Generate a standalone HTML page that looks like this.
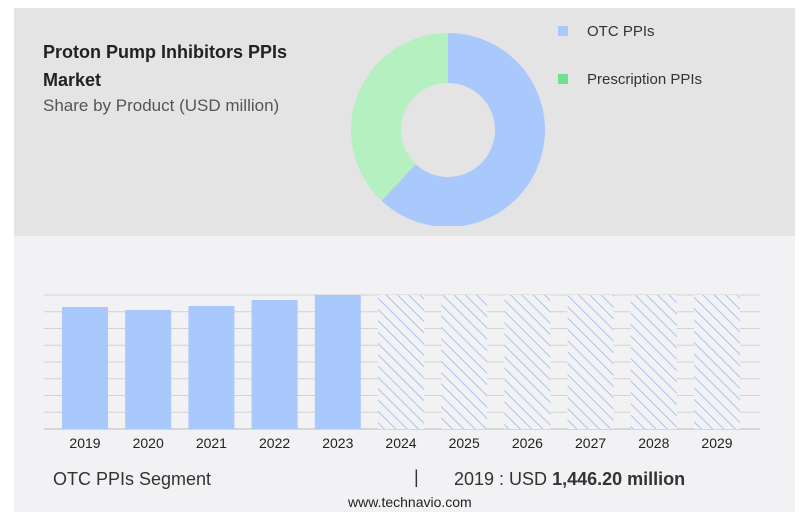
<!DOCTYPE html>
<html><head><meta charset="utf-8"><style>
body{margin:0;width:811px;height:525px;background:#fff;font-family:"Liberation Sans",sans-serif;position:relative;overflow:hidden}
.abs{position:absolute}
</style></head><body>
<div class="abs" style="left:14px;top:8px;width:781px;height:228px;background:#e4e4e4"></div>
<div class="abs" style="left:14px;top:236px;width:781px;height:276px;background:#f2f2f4"></div>
<div class="abs" style="left:43px;top:38px;font-size:18px;font-weight:bold;color:#222;line-height:28px">Proton Pump Inhibitors PPIs<br>Market</div>
<div class="abs" style="left:43px;top:96px;font-size:17px;color:#555">Share by Product (USD million)</div>
<svg class="abs" style="left:0;top:0" width="811" height="525" id="svg">
<defs><pattern id="hatch" width="8" height="8" patternUnits="userSpaceOnUse" patternTransform="rotate(-45)"><rect width="8" height="8" fill="#f2f2f4"/><line x1="0" y1="0" x2="0" y2="8" stroke="#a9c4ee" stroke-width="2"/></pattern>
<clipPath id="topclip"><rect x="0" y="0" width="811" height="226"/></clipPath></defs>
<g id="donut" clip-path="url(#topclip)"></g>
<g id="grid"></g><g id="bars"></g>
<rect x="558" y="26" width="10" height="10" fill="#a9c8fb"/>
<text x="587" y="36" font-size="15" fill="#333">OTC PPIs</text>
<rect x="558" y="74" width="10" height="10" fill="#6ee08e"/>
<text x="587" y="84" font-size="15" fill="#333">Prescription PPIs</text>
</svg>
<div class="abs" style="left:53px;top:469px;font-size:18px;color:#333">OTC PPIs Segment</div>
<div class="abs" style="left:414px;top:467px;font-size:18px;color:#333">|</div>
<div class="abs" style="left:454px;top:469px;font-size:18px;color:#333">2019 : USD <b>1,446.20 million</b></div>
<div class="abs" style="left:348px;top:494px;font-size:14px;color:#222">www.technavio.com</div>
<script>
const shareLabels=["OTC PPIs","Prescription PPIs"];
const shareValues=[62,38];
const shareColors=["#a9c8fb","#b4f0c0"];
const years=["2019","2020","2021","2022","2023","2024","2025","2026","2027","2028","2029"];
const values=[1446.2,1410,1458,1529,1588,null,null,null,null,null,null];
const NS="http://www.w3.org/2000/svg";
const cx=448,cy=130,R=97,r=47;
const tot=shareValues.reduce((a,b)=>a+b,0);let a0=0;
const dg=document.getElementById('donut');
shareValues.forEach((v,i)=>{const a1=a0+v/tot*2*Math.PI;
const p=(ang,rad)=>[cx+rad*Math.sin(ang),cy-rad*Math.cos(ang)];
const [x1,y1]=p(a0,R),[x2,y2]=p(a1,R),[x3,y3]=p(a1,r),[x4,y4]=p(a0,r);const lg=a1-a0>Math.PI?1:0;
const el=document.createElementNS(NS,'path');
el.setAttribute('d',`M${x1},${y1}A${R},${R} 0 ${lg} 1 ${x2},${y2}L${x3},${y3}A${r},${r} 0 ${lg} 0 ${x4},${y4}Z`);
el.setAttribute('fill',shareColors[i]);


dg.appendChild(el);a0=a1;});
const base=429,plotTop=295,maxV=Math.max(...values.filter(v=>v!=null));
const yScale=v=>base-(v/maxV)*(base-plotTop);
const xScale=i=>62+i*63.2;
const gg=document.getElementById('grid');
for(let k=0;k<=8;k++){const l=document.createElementNS(NS,'line');const yy=plotTop+k*(base-plotTop)/8;
l.setAttribute('x1',44);l.setAttribute('x2',760);l.setAttribute('y1',yy);l.setAttribute('y2',yy);
l.setAttribute('stroke',k==8?'#bbb':'#d2d2d2');l.setAttribute('stroke-width',1);


gg.appendChild(l);}
const bg=document.getElementById('bars');
years.forEach((yr,i)=>{const b=document.createElementNS(NS,'rect');
const v=values[i];const yt=v==null?plotTop:yScale(v);
b.setAttribute('x',xScale(i));b.setAttribute('width',46);b.setAttribute('y',yt);b.setAttribute('height',base-yt);
b.setAttribute('fill',v==null?'url(#hatch)':'#a9c8fb');


bg.appendChild(b);
const t=document.createElementNS(NS,'text');t.setAttribute('x',xScale(i)+23);t.setAttribute('y',448);
t.setAttribute('text-anchor','middle');t.setAttribute('font-size',14);t.setAttribute('fill','#222');t.textContent=yr;


bg.appendChild(t);});
</script>
</body></html>
